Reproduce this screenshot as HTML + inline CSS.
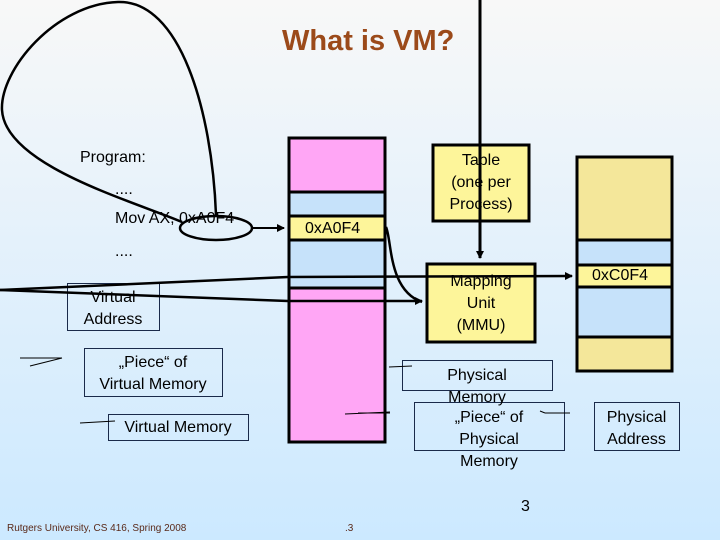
<!DOCTYPE html>
<html><head><meta charset="utf-8"><style>
html,body{margin:0;padding:0}
body{width:720px;height:540px;position:relative;overflow:hidden;background:linear-gradient(#f8f8f8 0%,#e4f1fb 45%,#cce9ff 100%);font-family:"Liberation Sans",sans-serif}
.t{position:absolute;font-size:16px;color:#000;white-space:nowrap}
</style></head><body>
<svg width="720" height="540" style="position:absolute;left:0;top:0" xmlns="http://www.w3.org/2000/svg">
<defs><marker id="a" markerWidth="8" markerHeight="8" refX="7" refY="4" orient="auto" markerUnits="userSpaceOnUse"><path d="M0,0 L8,4 L0,8z" fill="#000"/></marker></defs>
<rect x="290" y="138" width="95" height="54" fill="#ffa6f5"/>
<rect x="290" y="192" width="95" height="24" fill="#c6e2fa"/>
<rect x="290" y="216" width="95" height="24" fill="#fdf59a"/>
<rect x="290" y="240" width="95" height="48" fill="#c6e2fa"/>
<rect x="290" y="288" width="95" height="154" fill="#ffa6f5"/>
<g stroke="#000" stroke-width="3" fill="none">
<rect x="289" y="138" width="96" height="304"/>
<line x1="289" y1="192" x2="385" y2="192"/><line x1="289" y1="216" x2="385" y2="216"/><line x1="289" y1="240" x2="385" y2="240"/><line x1="289" y1="288" x2="385" y2="288"/>
</g>
<rect x="433" y="145" width="96" height="76" fill="#fdf59a" stroke="#000" stroke-width="3"/>
<rect x="427" y="264" width="108" height="78" fill="#fdf59a" stroke="#000" stroke-width="3"/>
<rect x="577" y="157" width="95" height="83" fill="#f4e79a"/>
<rect x="577" y="240" width="95" height="25" fill="#c6e2fa"/>
<rect x="577" y="265" width="95" height="22" fill="#fdf59a"/>
<rect x="577" y="287" width="95" height="50" fill="#c6e2fa"/>
<rect x="577" y="337" width="95" height="34" fill="#f4e79a"/>
<g stroke="#000" stroke-width="3" fill="none">
<rect x="577" y="157" width="95" height="214"/>
<line x1="577" y1="240" x2="672" y2="240"/><line x1="577" y1="265" x2="672" y2="265"/><line x1="577" y1="287" x2="672" y2="287"/><line x1="577" y1="337" x2="672" y2="337"/>
</g>
<g stroke="#1a2a4a" stroke-width="1" fill="none">
<rect x="67.5" y="283.5" width="92" height="47"/>
<rect x="84.5" y="348.5" width="138" height="48"/>
<rect x="108.5" y="414.5" width="140" height="26"/>
<rect x="402.5" y="360.5" width="150" height="30"/>
<rect x="414.5" y="402.5" width="150" height="48"/>
<rect x="594.5" y="402.5" width="85" height="48"/>
</g>
<g stroke="#000" stroke-width="1" fill="none">
<path d="M20,358 L62,358 M30,366 L62,358"/>
<path d="M80,423 L115,421"/>
<path d="M345,414 L390,412 M358,413 L390,413"/>
<path d="M389,367 L412,366"/>
<path d="M545,413 L570,413 M545,413 L540,411"/>
</g>
<g stroke="#000" stroke-width="3" fill="none">
<path d="M480,0 L480,258" marker-end="url(#a)"/>
<path d="M0,290 L288,277 L572,276" stroke-width="2.5" marker-end="url(#a)"/>
<path d="M0,290 L288,301 L422,301" stroke-width="2.5" marker-end="url(#a)"/>
<path d="M386,227 C392,240 388,290 422,302" stroke-width="2.5"/>
<path d="M252,228 L284,228" stroke-width="2" marker-end="url(#a)"/>
<ellipse cx="216" cy="228" rx="36" ry="12" stroke-width="2.5"/>
<path d="M216,215 C212,110 180,0 118,2 C55,4 0,70 2,110 C5,165 130,200 182,222" stroke-width="2.5"/>
</g>
</svg>
<div class="t" style="left:282px;top:25px;font-size:29px;font-weight:bold;color:#9b4a1a">What is VM?</div>
<div class="t" style="left:80px;top:149px">Program:</div>
<div class="t" style="left:115px;top:181px">....</div>
<div class="t" style="left:115px;top:210px">Mov AX, 0xA0F4</div>
<div class="t" style="left:115px;top:243px">....</div>
<div class="t" style="left:305px;top:220px">0xA0F4</div>
<div class="t" style="left:433px;top:150px;width:96px;text-align:center;line-height:22px">Table<br>(one per<br>Process)</div>
<div class="t" style="left:427px;top:271px;width:108px;text-align:center;line-height:22px">Mapping<br>Unit<br>(MMU)</div>
<div class="t" style="left:592px;top:267px">0xC0F4</div>
<div class="t" style="left:67px;top:287px;width:92px;text-align:center;line-height:22px">Virtual<br>Address</div>
<div class="t" style="left:84px;top:352px;width:138px;text-align:center;line-height:22px">„Piece“ of<br>Virtual Memory</div>
<div class="t" style="left:108px;top:419px;width:140px;text-align:center">Virtual Memory</div>
<div class="t" style="left:402px;top:365px;width:150px;text-align:center;line-height:22px">Physical<br>Memory</div>
<div class="t" style="left:414px;top:407px;width:150px;text-align:center;line-height:22px">„Piece“ of<br>Physical<br>Memory</div>
<div class="t" style="left:594px;top:407px;width:85px;text-align:center;line-height:22px">Physical<br>Address</div>
<div class="t" style="left:521px;top:498px;font-size:16px">3</div>
<div class="t" style="left:7px;top:523px;font-size:10px;color:#5a2a1a">Rutgers University, CS 416, Spring 2008</div>
<div class="t" style="left:345px;top:523px;font-size:10px;color:#5a2a1a">.3</div>
</body></html>
